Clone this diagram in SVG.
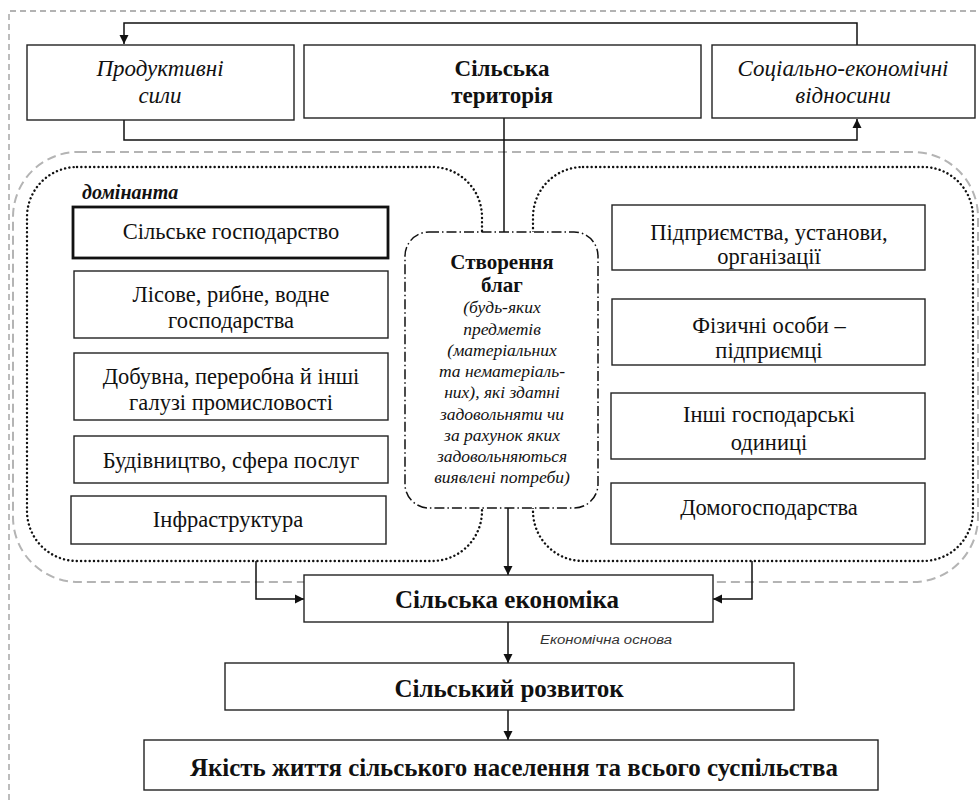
<svg xmlns="http://www.w3.org/2000/svg" width="980" height="800" viewBox="0 0 980 800">
<style>
text{font-family:"Liberation Serif","DejaVu Serif",serif;fill:#111;text-anchor:middle;dominant-baseline:central}
.box{fill:#fff;stroke:#222;stroke-width:1.4}
.thick{fill:#fff;stroke:#111;stroke-width:2.8}
.t{font-size:22.5px}
.it{font-size:23px;font-style:italic}
.b{font-size:23px;font-weight:bold}
.bb{font-size:25px;font-weight:bold}
.si{font-size:17.5px;font-style:italic}
.sb{font-size:21px;font-weight:bold}
.con{fill:none;stroke:#111;stroke-width:1.5}
.dot{fill:none;stroke:#111;stroke-width:2.4;stroke-dasharray:0.1 4.2;stroke-linecap:round}
.gdash{fill:none;stroke:#b4b4b4;stroke-width:2;stroke-dasharray:9 5}
.outer{fill:none;stroke:#9a9a9a;stroke-width:1.3;stroke-dasharray:6 4}
</style>
<defs>
<marker id="ah" viewBox="0 0 10 10" refX="10" refY="5" markerWidth="10" markerHeight="10" orient="auto" markerUnits="userSpaceOnUse">
<path d="M1,0.5 L10,5 L1,9.5 z" fill="#111"/>
</marker>
</defs>
<rect width="980" height="800" fill="#fff"/>

<g id="frame">
<path class="outer" d="M9,800 L9,11 L980,11"/>
<rect class="gdash" x="13" y="152" width="965" height="430" rx="65" ry="65"/>
<rect class="dot" x="27" y="167" width="455" height="394" rx="50" ry="50"/>
<rect class="dot" x="533" y="167" width="440" height="394" rx="50" ry="50"/>
</g>

<g id="connectors">
<path class="con" d="M857,45 L857,23 L124,23 L124,44" marker-end="url(#ah)"/>
<path class="con" d="M124,120 L124,140 L857,140 L857,119" marker-end="url(#ah)"/>
<path class="con" d="M504,118 L504,232"/>
<path class="con" d="M508,508 L508,575" marker-end="url(#ah)"/>
<path class="con" d="M256,561 L256,599 L304,599" marker-end="url(#ah)"/>
<path class="con" d="M752,561 L752,599 L713,599" marker-end="url(#ah)"/>
<path class="con" d="M508,622 L508,663" marker-end="url(#ah)"/>
<path class="con" d="M508,710 L508,740" marker-end="url(#ah)"/>
</g>

<g id="produktyvni">
<rect class="box" x="27" y="45" width="267" height="75"/>
<text class="it" x="160" y="68">Продуктивні</text>
<text class="it" x="160" y="95">сили</text>
</g>
<g id="terytoriya">
<rect class="box" x="304" y="45" width="397" height="73"/>
<text class="b" x="502" y="68">Сільська</text>
<text class="b" x="502" y="95">територія</text>
</g>
<g id="vidnosyny">
<rect class="box" x="712" y="45" width="263" height="73"/>
<text class="it" x="843" y="68">Соціально-економічні</text>
<text class="it" x="843" y="95">відносини</text>
</g>

<g id="dominanta">
<text x="82" y="192" style="font-size:20px;font-weight:bold;font-style:italic;text-anchor:start">домінанта</text>
</g>

<g id="silske-gospodarstvo">
<rect class="thick" x="73" y="207" width="315" height="51"/>
<text class="t" x="231" y="231">Сільське господарство</text>
</g>
<g id="lisove">
<rect class="box" x="74" y="271" width="314" height="67"/>
<text class="t" x="231" y="294">Лісове, рибне, водне</text>
<text class="t" x="231" y="320">господарства</text>
</g>
<g id="dobuvna">
<rect class="box" x="74" y="353" width="314" height="67"/>
<text class="t" x="231" y="376">Добувна, переробна й інші</text>
<text class="t" x="231" y="402">галузі промисловості</text>
</g>
<g id="budivnytstvo">
<rect class="box" x="74" y="436" width="314" height="47"/>
<text class="t" x="231" y="460">Будівництво, сфера послуг</text>
</g>
<g id="infrastruktura">
<rect class="box" x="71" y="496" width="315" height="48"/>
<text class="t" x="228" y="519">Інфраструктура</text>
</g>

<g id="stvorennya">
<rect x="405" y="232" width="193" height="276" rx="24" ry="24" fill="#fff" stroke="#111" stroke-width="1.5" stroke-dasharray="10 3 1.5 3"/>
<text class="sb" x="502" y="262">Створення</text>
<text class="sb" x="502" y="285">благ</text>
<text class="si" x="502" y="307">(будь-яких</text>
<text class="si" x="502" y="329">предметів</text>
<text class="si" x="502" y="350">(матеріальних</text>
<text class="si" x="502" y="371">та нематеріаль-</text>
<text class="si" x="502" y="392">них), які здатні</text>
<text class="si" x="502" y="414">задовольняти чи</text>
<text class="si" x="502" y="435">за рахунок яких</text>
<text class="si" x="502" y="456">задовольняються</text>
<text class="si" x="502" y="477">виявлені потреби)</text>
</g>

<g id="pidpryiemstva">
<rect class="box" x="612" y="205" width="313" height="65"/>
<text class="t" x="769" y="232">Підприємства, установи,</text>
<text class="t" x="769" y="256">організації</text>
</g>
<g id="fizychni">
<rect class="box" x="612" y="299" width="313" height="66"/>
<text class="t" x="769" y="325">Фізичні особи –</text>
<text class="t" x="769" y="350">підприємці</text>
</g>
<g id="inshi">
<rect class="box" x="611" y="393" width="314" height="66"/>
<text class="t" x="769" y="414">Інші господарські</text>
<text class="t" x="769" y="442">одиниці</text>
</g>
<g id="domogospodarstva">
<rect class="box" x="611" y="483" width="314" height="61"/>
<text class="t" x="769" y="507">Домогосподарства</text>
</g>

<g id="ekonomika">
<rect class="box" x="304" y="575" width="409" height="47"/>
<text class="bb" x="507" y="599">Сільська економіка</text>
</g>
<g id="label-osnova">
<text x="606" y="640" textLength="132" lengthAdjust="spacingAndGlyphs" style="font-family:'Liberation Sans',Arial,sans-serif;font-size:12.5px;font-style:italic;fill:#333">Економічна основа</text>
</g>
<g id="rozvytok">
<rect class="box" x="225" y="663" width="569" height="47"/>
<text class="bb" x="509" y="688">Сільський розвиток</text>
</g>
<g id="yakist">
<rect class="box" x="144" y="740" width="734" height="50"/>
<text class="bb" x="514" y="767" textLength="648" lengthAdjust="spacingAndGlyphs">Якість життя сільського населення та всього суспільства</text>
</g>
</svg>
